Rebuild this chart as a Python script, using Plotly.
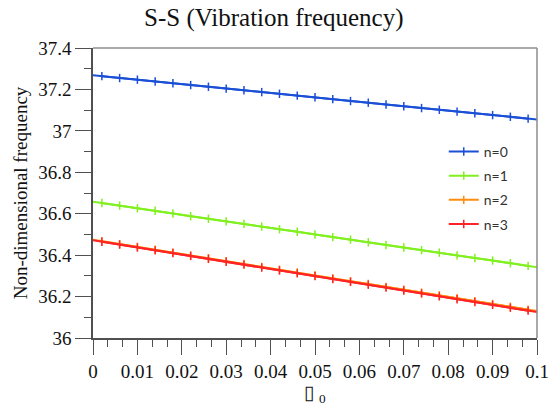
import plotly.graph_objects as go

# x positions: line endpoints 0 and 0.1, markers in between
x_vals = [0.0, 0.002, 0.006, 0.010, 0.014, 0.018, 0.022, 0.026, 0.030, 0.034, 0.038,
          0.042, 0.046, 0.050, 0.054, 0.058, 0.062, 0.066, 0.070, 0.074, 0.078,
          0.082, 0.086, 0.090, 0.094, 0.098, 0.1]

n0 = [37.268, 37.264, 37.255, 37.247, 37.238, 37.230, 37.221, 37.213, 37.204, 37.196, 37.187,
      37.179, 37.170, 37.162, 37.153, 37.144, 37.136, 37.127, 37.119, 37.110, 37.102,
      37.093, 37.085, 37.076, 37.068, 37.059, 37.055]
n1 = [36.658, 36.652, 36.639, 36.626, 36.614, 36.601, 36.588, 36.576, 36.563, 36.551, 36.538,
      36.525, 36.513, 36.500, 36.487, 36.475, 36.462, 36.449, 36.437, 36.424, 36.412,
      36.399, 36.386, 36.374, 36.361, 36.348, 36.342]
n2 = [36.474, 36.467, 36.453, 36.440, 36.426, 36.412, 36.398, 36.385, 36.371, 36.357, 36.343,
      36.330, 36.316, 36.302, 36.288, 36.274, 36.261, 36.247, 36.233, 36.219, 36.206,
      36.192, 36.178, 36.164, 36.151, 36.137, 36.130]
n3 = [36.472, 36.465, 36.451, 36.437, 36.423, 36.410, 36.396, 36.382, 36.368, 36.354, 36.340,
      36.326, 36.312, 36.299, 36.285, 36.271, 36.257, 36.243, 36.229, 36.215, 36.201,
      36.187, 36.174, 36.160, 36.146, 36.132, 36.125]

series_names = ["n=0", "n=1", "n=2", "n=3"]
series_vals = [n0, n1, n2, n3]
series_colors = ["#1a4fd6", "#80f020", "#ff8c10", "#ff2424"]

x_ticks = [0, 0.01, 0.02, 0.03, 0.04, 0.05, 0.06, 0.07, 0.08, 0.09, 0.1]
x_tick_labels = ["0", "0.01", "0.02", "0.03", "0.04", "0.05", "0.06", "0.07", "0.08", "0.09", "0.1"]
y_ticks = [36, 36.2, 36.4, 36.6, 36.8, 37, 37.2, 37.4]
y_tick_labels = ["36", "36.2", "36.4", "36.6", "36.8", "37", "37.2", "37.4"]

title_text = "S-S (Vibration frequency)"

fig = go.Figure()
for name, vals, col in zip(series_names, series_vals, series_colors):
    # full line from 0 to 0.1
    fig.add_trace(go.Scatter(x=x_vals, y=vals, mode="lines",
                             line=dict(color=col, width=2), showlegend=False,
                             legendgroup=name, hoverinfo="skip"))
    # markers
    fig.add_trace(go.Scatter(x=x_vals[1:-1], y=vals[1:-1], mode="lines+markers", name=name,
                             legendgroup=name,
                             line=dict(color=col, width=2),
                             marker=dict(symbol="line-ns", size=6,
                                         line=dict(color=col, width=1.5))))

serif = "Times New Roman, Liberation Serif, serif"
axcol = "#505050"
txt = "#111111"

fig.update_layout(
    width=548, height=410,
    margin=dict(l=93, r=11, t=48, b=72, autoexpand=False),
    paper_bgcolor="white", plot_bgcolor="white",
    font=dict(family=serif, color=txt),
    showlegend=True,
    legend=dict(x=0.79, y=0.697, xanchor="left", yanchor="top",
                font=dict(family="Lato", size=14, color="#333"),
                bgcolor="rgba(0,0,0,0)", tracegroupgap=3),
    xaxis=dict(range=[0, 0.1], tickmode="array", tickvals=x_ticks, ticktext=x_tick_labels,
               showgrid=False, zeroline=False, ticklabeloverflow="allow", automargin=False,
               showline=True, linecolor=axcol, linewidth=1.5,
               ticks="outside", ticklen=15, tickwidth=1.3, tickcolor=axcol,
               minor=dict(dtick=0.01/3, tick0=0, ticks="outside", ticklen=7, tickwidth=1.3,
                          tickcolor=axcol, showgrid=False),
               tickfont=dict(family=serif, size=19, color=txt),
               title=dict(text="\u25AF <sub>0</sub>", font=dict(family=serif, size=19, color=txt),
                          standoff=4)),
    yaxis=dict(range=[36, 37.4], tickmode="array", tickvals=y_ticks, ticktext=y_tick_labels,
               showgrid=False, zeroline=False, automargin=False,
               showline=True, linecolor=axcol, linewidth=1.5,
               ticks="outside", ticklen=16, tickwidth=1.3, tickcolor=axcol,
               minor=dict(dtick=0.1, tick0=36, ticks="outside", ticklen=7, tickwidth=1.3,
                          tickcolor=axcol, showgrid=False),
               tickfont=dict(family=serif, size=19, color=txt),
               title=dict(text="Non-dimensional frequency", font=dict(family=serif, size=19, color=txt),
                          standoff=6)),
)

# title as annotation (serif)
fig.add_annotation(text=title_text, xref="paper", yref="paper", x=0.408, y=1.103,
                   xanchor="center", yanchor="middle", showarrow=False,
                   font=dict(family=serif, size=25, color=txt))

# top and right frame lines
fig.add_shape(type="line", xref="paper", yref="paper", x0=0, x1=1, y0=1, y1=1,
              line=dict(color="#8c8c8c", width=1.5))
fig.add_shape(type="line", xref="paper", yref="paper", x0=1, x1=1, y0=0, y1=1,
              line=dict(color="#8c8c8c", width=1.5))

fig.write_html("out.html")
